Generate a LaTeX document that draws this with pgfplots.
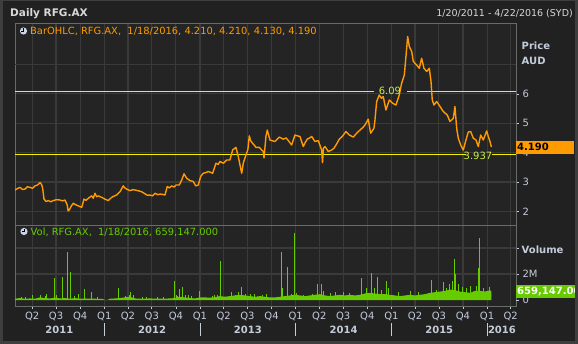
\documentclass[border=0pt]{standalone}
\usepackage{pgfplots}
\pgfplotsset{compat=1.18}
\usepackage{fontspec}
\setmainfont{DejaVu Sans}
\definecolor{bgc}{HTML}{212121}
\definecolor{plotbg}{HTML}{242424}
\definecolor{gridc}{HTML}{3A3A3A}
\definecolor{axisc}{HTML}{6A6A6A}
\definecolor{framec}{HTML}{3E3E3E}
\definecolor{labc}{HTML}{C4CCDA}
\definecolor{titc}{HTML}{D8D8D8}
\definecolor{priceor}{HTML}{FF9A00}
\definecolor{hyel}{HTML}{F2F200}
\definecolor{hlab}{HTML}{CCEE44}
\definecolor{volgr}{HTML}{66CC00}
\definecolor{clockc}{HTML}{C9D5E6}
\newcommand{\clockicon}[2]{%
  \fill[clockc] (#1,#2) circle (3.6);
  \draw[black, line width=0.9pt] (#1,#2+2.6) -- (#1,#2) -- (#1-2.2,#2);
}
\begin{document}
\begin{tikzpicture}[x=1pt,y=1pt]
\useasboundingbox (0,0) rectangle (578,344);
\fill[bgc] (0,0) rectangle (578,344);
% header
\node[anchor=west, text=titc, font=\fontsize{10.5}{12}\selectfont\bfseries, inner sep=0pt] at (10,330.5) {Daily RFG.AX};
\node[anchor=east, text=titc, font=\fontsize{9.5}{11}\selectfont, inner sep=0pt] at (573,330.5) {1/20/2011 - 4/22/2016 (SYD)};

% ---------------- price panel ----------------
\begin{axis}[
  at={(15pt,119pt)}, anchor=south west, scale only axis,
  width=501pt, height=202pt,
  xmin=2011.067, xmax=2016.302, ymin=1.54, ymax=8.41,
  axis background/.style={fill=plotbg},
  axis line style={draw=axisc, line width=0.8pt},
  clip mode=individual,
  xtick={2011.247,2011.496,2011.748,2012,2012.247,2012.496,2012.748,2013,2013.247,2013.496,2013.748,2014,2014.247,2014.496,2014.748,2015,2015.247,2015.496,2015.748,2016,2016.247},
  xticklabels={}, x tick style={draw=none},
  xmajorgrids, ymajorgrids,
  grid style={draw=gridc, line width=1.2pt},
  ytick={2,3,4,5,6}, yticklabels={2,3,4,5,6},
  extra y ticks={7}, extra y tick labels={},
  extra y tick style={major tick length=0pt},
  ytick pos=right, yticklabel pos=right,
  tick align=outside, major tick length=3pt,
  y tick style={draw=labc, line width=0.6pt},
  tick label style={text=labc, font=\fontsize{10}{12}\selectfont},
  /pgf/number format/assume math mode=true,
]
\addplot[hyel, line width=0.9pt] coordinates {(2011.067,6.09) (2014.818,6.09)};
\addplot[hyel, line width=0.9pt] coordinates {(2015.163,6.09) (2016.302,6.09)};
\addplot[hyel, line width=0.9pt] coordinates {(2011.067,3.937) (2015.775,3.937)};
\addplot[hyel, line width=0.9pt] coordinates {(2016.05,3.937) (2016.302,3.937)};
\addplot[priceor, line width=1.4pt, line join=round] table {
2011.067 2.73
2011.093 2.78
2011.119 2.82
2011.145 2.75
2011.171 2.76
2011.197 2.84
2011.223 2.82
2011.250 2.79
2011.276 2.87
2011.302 2.90
2011.328 2.98
2011.345 2.92
2011.356 2.79
2011.370 2.42
2011.392 2.34
2011.415 2.37
2011.440 2.33
2011.467 2.37
2011.500 2.40
2011.537 2.39
2011.565 2.36
2011.589 2.39
2011.613 2.22
2011.622 2.02
2011.634 2.05
2011.655 2.18
2011.676 2.28
2011.700 2.23
2011.728 2.19
2011.764 2.14
2011.788 2.42
2011.810 2.38
2011.833 2.45
2011.868 2.53
2011.885 2.45
2011.903 2.62
2011.920 2.50
2011.937 2.53
2011.973 2.48
2012.007 2.42
2012.042 2.37
2012.077 2.48
2012.100 2.52
2012.129 2.56
2012.164 2.67
2012.198 2.87
2012.215 2.80
2012.234 2.76
2012.268 2.71
2012.300 2.74
2012.321 2.73
2012.360 2.70
2012.391 2.67
2012.425 2.60
2012.450 2.55
2012.477 2.56
2012.505 2.53
2012.530 2.62
2012.560 2.57
2012.582 2.59
2012.610 2.58
2012.634 2.56
2012.658 2.85
2012.680 2.80
2012.704 2.87
2012.730 2.83
2012.749 2.90
2012.784 2.90
2012.809 3.07
2012.833 3.28
2012.861 3.13
2012.895 3.05
2012.930 3.02
2012.955 2.87
2012.982 2.90
2013.007 3.19
2013.034 3.30
2013.060 3.32
2013.087 3.36
2013.110 3.33
2013.132 3.30
2013.167 3.64
2013.190 3.60
2013.209 3.70
2013.243 3.64
2013.279 3.75
2013.313 3.75
2013.341 4.09
2013.376 4.18
2013.400 3.87
2013.420 3.55
2013.436 3.30
2013.452 3.64
2013.480 3.92
2013.500 4.10
2013.515 4.57
2013.530 4.40
2013.550 4.32
2013.585 4.18
2013.619 4.18
2013.645 4.09
2013.661 4.04
2013.669 3.82
2013.689 4.55
2013.703 4.77
2013.731 4.43
2013.760 4.40
2013.784 4.38
2013.829 4.53
2013.870 4.46
2013.900 4.50
2013.923 4.41
2013.958 4.26
2013.992 4.60
2014.020 4.57
2014.045 4.55
2014.079 4.21
2014.100 4.35
2014.121 4.46
2014.145 4.50
2014.167 4.55
2014.201 4.38
2014.236 4.41
2014.271 4.09
2014.280 3.66
2014.290 4.15
2014.306 4.21
2014.340 4.04
2014.376 4.09
2014.400 4.15
2014.421 4.26
2014.456 4.46
2014.491 4.57
2014.525 4.72
2014.560 4.60
2014.602 4.53
2014.637 4.66
2014.672 4.77
2014.700 4.85
2014.724 4.94
2014.758 5.14
2014.783 4.66
2014.818 4.83
2014.828 5.10
2014.846 5.74
2014.873 5.96
2014.895 5.85
2014.915 5.91
2014.943 5.45
2014.978 5.79
2015.013 5.68
2015.048 5.62
2015.082 5.96
2015.107 6.36
2015.135 6.64
2015.152 7.27
2015.170 7.95
2015.187 7.61
2015.212 7.44
2015.229 7.10
2015.264 6.98
2015.291 6.87
2015.316 7.21
2015.340 6.87
2015.369 6.76
2015.396 6.87
2015.414 6.42
2015.427 5.79
2015.445 5.62
2015.473 5.74
2015.508 5.57
2015.542 5.40
2015.584 5.28
2015.612 5.06
2015.647 5.17
2015.664 5.57
2015.682 4.83
2015.699 4.49
2015.724 4.26
2015.751 4.09
2015.779 4.43
2015.803 4.70
2015.828 4.72
2015.856 4.49
2015.884 4.43
2015.908 4.21
2015.933 4.60
2015.960 4.43
2015.996 4.74
2016.012 4.55
2016.030 4.38
2016.045 4.19
};
\node[text=hlab, font=\fontsize{10}{12}\selectfont, inner sep=0pt] at (axis cs:2014.985,6.09) {6.09};
\node[text=hlab, font=\fontsize{10}{12}\selectfont, inner sep=0pt] at (axis cs:2015.905,3.90) {3.937};
\node[anchor=west, fill=priceor, text=black, font=\fontsize{10}{12}\selectfont\bfseries, inner sep=1pt, text width=56pt, align=left, minimum height=13pt] at (axis cs:2016.302,4.19) {4.190};
\end{axis}

% ---------------- volume panel ----------------
\begin{axis}[
  at={(15pt,38pt)}, anchor=south west, scale only axis,
  width=501pt, height=81pt,
  xmin=2011.067, xmax=2016.302, ymin=-0.46, ymax=5.77,
  axis background/.style={fill=plotbg},
  axis line style={draw=axisc, line width=0.8pt},
  clip mode=individual,
  xtick={2011.247,2011.496,2011.748,2012,2012.247,2012.496,2012.748,2013,2013.247,2013.496,2013.748,2014,2014.247,2014.496,2014.748,2015,2015.247,2015.496,2015.748,2016,2016.247},
  xticklabels={Q2,Q3,Q4,Q1,Q2,Q3,Q4,Q1,Q2,Q3,Q4,Q1,Q2,Q3,Q4,Q1,Q2,Q3,Q4,Q1,Q2},
  xtick pos=bottom,
  xmajorgrids, ymajorgrids,
  grid style={draw=gridc, line width=1.2pt},
  ytick={2,4}, yticklabels={2M,{}},
  extra y ticks={0}, extra y tick labels={0},
  extra y tick style={grid=none},
  ytick pos=right, yticklabel pos=right,
  tick align=outside, major tick length=3pt,
  tick style={draw=labc, line width=0.6pt},
  tick label style={text=labc, font=\fontsize{10}{12}\selectfont},
  /pgf/number format/assume math mode=true,
]
\addplot[fill=volgr, draw=none] table {
2011.067 0
2011.067 0.10
2011.119 0.15
2011.171 0.10
2011.223 0.12
2011.276 0.10
2011.328 0.20
2011.380 0.15
2011.432 0.12
2011.485 0.18
2011.537 0.12
2011.589 0.15
2011.641 0.10
2011.694 0.15
2011.746 0.10
2011.798 0.12
2011.850 0.10
2011.903 0.10
2011.955 0.08
2011.986 0.08
2011.997 0.02
2012.039 0.02
2012.059 0.10
2012.112 0.12
2012.164 0.15
2012.216 0.20
2012.268 0.25
2012.321 0.12
2012.373 0.10
2012.477 0.12
2012.582 0.10
2012.686 0.12
2012.739 0.15
2012.791 0.25
2012.843 0.20
2012.895 0.15
2012.948 0.12
2013.000 0.20
2013.052 0.20
2013.104 0.18
2013.157 0.22
2013.209 0.30
2013.261 0.25
2013.313 0.30
2013.366 0.35
2013.418 0.40
2013.470 0.35
2013.522 0.30
2013.575 0.25
2013.627 0.30
2013.679 0.25
2013.731 0.20
2013.784 0.20
2013.836 0.25
2013.888 0.30
2013.940 0.35
2013.992 0.40
2014.045 0.35
2014.097 0.30
2014.149 0.35
2014.201 0.40
2014.254 0.45
2014.306 0.35
2014.358 0.30
2014.410 0.35
2014.463 0.40
2014.515 0.35
2014.567 0.40
2014.619 0.35
2014.672 0.40
2014.724 0.50
2014.776 0.55
2014.828 0.50
2014.880 0.45
2014.933 0.45
2014.985 0.40
2015.037 0.35
2015.090 0.30
2015.142 0.35
2015.194 0.40
2015.246 0.35
2015.298 0.40
2015.351 0.45
2015.403 0.55
2015.455 0.60
2015.508 0.65
2015.560 0.70
2015.612 0.80
2015.664 0.75
2015.717 0.65
2015.769 0.60
2015.821 0.55
2015.873 0.70
2015.925 0.70
2015.978 0.65
2016.030 0.75
2016.045 0.66
2016.045 0
} -- cycle;
\addplot[ycomb, volgr, line width=0.8pt, mark=none] table {
2011.137 0.25
2011.171 0.25
2011.252 0.38
2011.328 0.35
2011.380 0.30
2011.398 0.44
2011.477 1.67
2011.502 0.35
2011.561 1.79
2011.613 3.72
2011.645 2.18
2011.683 0.30
2011.728 0.45
2011.788 0.82
2011.868 0.60
2011.924 0.20
2012.146 0.95
2012.216 0.30
2012.261 0.40
2012.276 0.60
2012.300 0.35
2012.394 0.25
2012.436 0.20
2012.551 0.25
2012.613 0.20
2012.731 1.46
2012.749 0.35
2012.760 0.30
2012.781 0.82
2012.815 1.00
2012.843 0.40
2012.874 0.35
2012.906 0.30
2012.989 0.70
2013.125 0.30
2013.149 0.40
2013.178 0.35
2013.212 2.97
2013.331 0.60
2013.366 0.35
2013.400 0.60
2013.436 1.00
2013.470 0.45
2013.522 0.50
2013.564 0.45
2013.648 0.40
2013.689 0.45
2013.846 3.72
2013.862 0.95
2013.912 2.56
2013.951 0.45
2013.985 5.13
2014.003 0.55
2014.076 0.40
2014.170 0.45
2014.230 1.21
2014.268 1.21
2014.285 0.70
2014.358 0.55
2014.410 0.65
2014.494 0.60
2014.557 0.55
2014.685 1.67
2014.734 0.90
2014.790 2.10
2014.818 0.90
2014.852 1.80
2014.891 0.80
2014.946 1.46
2014.964 0.90
2015.069 0.60
2015.194 0.70
2015.278 0.60
2015.417 1.54
2015.466 0.80
2015.539 1.38
2015.571 0.90
2015.609 1.20
2015.633 1.50
2015.661 3.18
2015.672 1.97
2015.696 1.20
2015.738 1.00
2015.779 0.90
2015.821 1.10
2015.887 1.10
2015.912 2.49
2015.922 4.80
2015.957 0.90
2016.020 1.00
};
\node[anchor=west, fill=volgr, text=white, font=\fontsize{10}{12}\selectfont\bfseries, inner sep=1pt, text width=60pt, align=left, minimum height=13pt] at (axis cs:2016.302,0.659) {659,147.000};
% year labels and separators
\node[text=labc, font=\fontsize{10}{12}\selectfont\bfseries, inner sep=0pt] at ([yshift=-24pt]axis cs:2011.53,-0.46) {2011};
\node[text=labc, font=\fontsize{10}{12}\selectfont\bfseries, inner sep=0pt] at ([yshift=-24pt]axis cs:2012.5,-0.46) {2012};
\node[text=labc, font=\fontsize{10}{12}\selectfont\bfseries, inner sep=0pt] at ([yshift=-24pt]axis cs:2013.5,-0.46) {2013};
\node[text=labc, font=\fontsize{10}{12}\selectfont\bfseries, inner sep=0pt] at ([yshift=-24pt]axis cs:2014.5,-0.46) {2014};
\node[text=labc, font=\fontsize{10}{12}\selectfont\bfseries, inner sep=0pt] at ([yshift=-24pt]axis cs:2015.5,-0.46) {2015};
\node[text=labc, font=\fontsize{10}{12}\selectfont\bfseries, inner sep=0pt] at ([yshift=-24pt]axis cs:2016.155,-0.46) {2016};
\draw[labc, line width=0.8pt] ([yshift=-17pt]axis cs:2012,-0.46) -- ([yshift=-30pt]axis cs:2012,-0.46);
\draw[labc, line width=0.8pt] ([yshift=-17pt]axis cs:2013,-0.46) -- ([yshift=-30pt]axis cs:2013,-0.46);
\draw[labc, line width=0.8pt] ([yshift=-17pt]axis cs:2014,-0.46) -- ([yshift=-30pt]axis cs:2014,-0.46);
\draw[labc, line width=0.8pt] ([yshift=-17pt]axis cs:2015,-0.46) -- ([yshift=-30pt]axis cs:2015,-0.46);
\draw[labc, line width=0.8pt] ([yshift=-17pt]axis cs:2016,-0.46) -- ([yshift=-30pt]axis cs:2016,-0.46);
\end{axis}

% legends
\clockicon{23.5}{313}
\node[anchor=west, text=priceor, font=\fontsize{9.9}{11}\selectfont, inner sep=0pt] at (30,312.5) {BarOHLC, RFG.AX,\ \ 1/18/2016, 4.210, 4.210, 4.130, 4.190};
\clockicon{24}{112.5}
\node[anchor=west, text=volgr, font=\fontsize{9.9}{11}\selectfont, inner sep=0pt] at (30.5,112) {Vol, RFG.AX,\ \ 1/18/2016, 659,147.000};
% right labels
\node[anchor=west, text=labc, font=\fontsize{10}{12}\selectfont\bfseries, inner sep=0pt] at (521.5,298.5) {Price};
\node[anchor=west, text=labc, font=\fontsize{10}{12}\selectfont\bfseries, inner sep=0pt] at (521.5,283) {AUD};
\node[anchor=west, text=labc, font=\fontsize{10}{12}\selectfont\bfseries, inner sep=0pt] at (521.5,94) {Volume};
% frame
\fill[framec] (0,0) rectangle (3,344);
\fill[framec] (575,0) rectangle (578,344);
\fill[framec] (0,0) rectangle (578,3);
\fill[framec] (0,343) rectangle (578,344);
\end{tikzpicture}
\end{document}
